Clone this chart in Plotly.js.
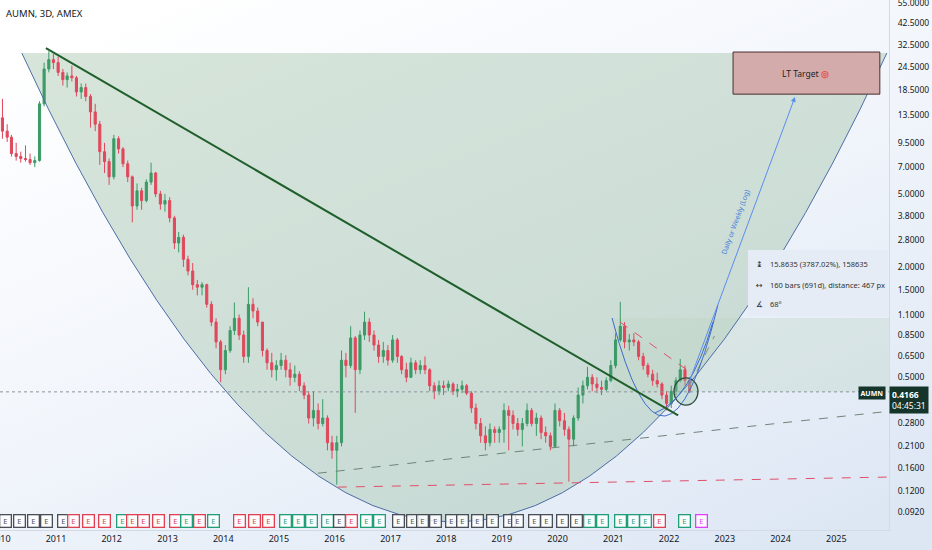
<!DOCTYPE html>
<html><head><meta charset="utf-8">
<script src="https://cdn.plot.ly/plotly-3.0.1.min.js"></script>
<style>html,body{margin:0;padding:0;background:#fff;}#chart{width:932px;height:550px;}</style>
</head><body><div id="chart"></div>
<script>
// ---------- data (monthly OHLC, AUMN) ----------
const startYear = 2010;
const openP = [
 13,11,10.2,8.3,8.0,7.8,7.7,7.4,7.6,15.5,24,27,
 26,23,21,22,21.5,18,19,17,14,12,8.5,7.5,
 6.2,10,8.8,7.3,6.2,4.3,5.2,4.6,5.8,6.5,5.0,4.4,
 4.6,3.7,2.7,2.9,2.2,1.9,1.6,1.55,1.6,1.25,1.0,0.78,
 0.55,0.7,0.9,1.05,0.85,0.65,1.25,1.15,1.0,0.7,0.6,0.55,
 0.58,0.62,0.55,0.5,0.52,0.45,0.4,0.3,0.33,0.28,0.3,0.22,
 0.2,0.22,0.62,0.58,0.82,0.55,0.85,1.0,0.85,0.75,0.65,0.7,
 0.62,0.8,0.65,0.55,0.5,0.6,0.55,0.58,0.55,0.45,0.42,0.45,
 0.44,0.46,0.42,0.43,0.45,0.41,0.34,0.28,0.24,0.22,0.26,0.25,
 0.26,0.33,0.31,0.28,0.26,0.28,0.33,0.28,0.3,0.25,0.24,0.21,
 0.33,0.29,0.26,0.23,0.3,0.4,0.45,0.5,0.46,0.44,0.43,0.48,
 0.58,0.8,0.95,0.78,0.8,0.78,0.65,0.58,0.52,0.48,0.46,0.4,
 0.36,0.42,0.48,0.55,0.48
];
const highP = [
 16.5,12,10.5,9.5,8.5,9.2,8.3,8.0,16,26,30,29,
 28,24,23,25,22,20,20,17.5,15.5,12.5,9.5,7.8,
 10.5,10.3,9,7.6,6.3,5.7,5.4,6.0,7.4,6.6,5.2,5.0,
 4.8,3.8,3.1,3.0,2.3,2.1,1.7,1.65,1.62,1.3,1.05,0.8,
 0.75,0.95,1.28,1.1,0.9,1.55,1.35,1.2,1.0,0.72,0.68,0.62,
 0.68,0.66,0.6,0.58,0.54,0.47,0.42,0.42,0.36,0.38,0.31,0.24,
 0.24,0.7,0.68,0.95,0.84,0.9,1.14,1.05,0.9,0.8,0.78,0.75,
 0.85,0.82,0.66,0.6,0.64,0.62,0.62,0.65,0.56,0.47,0.48,0.48,
 0.48,0.47,0.46,0.48,0.46,0.42,0.36,0.3,0.27,0.28,0.27,0.27,
 0.36,0.35,0.33,0.3,0.3,0.36,0.34,0.32,0.31,0.27,0.25,0.36,
 0.34,0.32,0.27,0.31,0.44,0.48,0.57,0.52,0.5,0.48,0.5,0.62,
 0.87,1.29,1.0,0.86,0.87,0.8,0.68,0.6,0.55,0.53,0.47,0.42,
 0.45,0.5,0.63,0.58,0.5
];
const lowP = [
 10,9.6,8,7.6,7.4,7.5,7.2,7.0,7.5,15,23,24,
 22,19.5,19,20.5,17,16.5,16,11.5,11,7.2,6.5,5.6,
 6,8.3,7,5.8,3.5,4.1,4.1,4.5,5.6,4.8,4.1,4.0,
 3.5,2.5,2.4,2.0,1.8,1.5,1.4,1.4,1.2,0.95,0.72,0.47,
 0.52,0.68,0.85,0.8,0.6,0.6,1.05,0.95,0.65,0.55,0.5,0.48,
 0.55,0.5,0.45,0.47,0.42,0.38,0.28,0.27,0.26,0.27,0.2,0.18,
 0.13,0.21,0.5,0.56,0.32,0.52,0.8,0.78,0.7,0.6,0.6,0.58,
 0.6,0.6,0.52,0.47,0.5,0.52,0.52,0.52,0.42,0.38,0.4,0.4,
 0.42,0.4,0.39,0.41,0.4,0.32,0.26,0.22,0.2,0.21,0.22,0.22,
 0.22,0.2,0.26,0.24,0.21,0.27,0.27,0.24,0.23,0.22,0.2,0.21,
 0.27,0.24,0.135,0.21,0.29,0.36,0.43,0.42,0.41,0.4,0.42,0.47,
 0.56,0.78,0.72,0.7,0.74,0.62,0.55,0.5,0.45,0.44,0.38,0.33,
 0.34,0.4,0.47,0.45,0.41
];
const closeP = [
 11,10.2,8.3,8.0,7.8,7.7,7.4,7.6,15.5,24,27,26,
 23,21,22,21.5,18,19,17,14,12,8.5,7.5,6.2,
 10,8.8,7.3,6.2,4.3,5.2,4.6,5.8,6.5,5.0,4.4,4.6,
 3.7,2.7,2.9,2.2,1.9,1.6,1.55,1.6,1.25,1.0,0.78,0.55,
 0.7,0.9,1.05,0.85,0.65,1.25,1.15,1.0,0.7,0.6,0.55,0.58,
 0.62,0.55,0.5,0.52,0.45,0.4,0.3,0.33,0.28,0.3,0.22,0.2,
 0.22,0.62,0.58,0.82,0.55,0.85,1.0,0.85,0.75,0.65,0.7,0.62,
 0.8,0.65,0.55,0.5,0.6,0.55,0.58,0.55,0.45,0.42,0.45,0.44,
 0.46,0.42,0.43,0.45,0.41,0.34,0.28,0.24,0.22,0.26,0.25,0.26,
 0.33,0.31,0.28,0.26,0.28,0.33,0.28,0.3,0.25,0.24,0.21,0.33,
 0.29,0.26,0.23,0.3,0.4,0.45,0.5,0.46,0.44,0.43,0.48,0.58,
 0.8,0.95,0.78,0.8,0.78,0.65,0.58,0.52,0.48,0.46,0.4,0.36,
 0.42,0.48,0.55,0.48,0.4166
];
const lastPrice = 0.4166;
const countdown = "04:45:31";
const symbolTitle = "AUMN, 3D, AMEX";

const yTickVals = [0.092,0.12,0.16,0.21,0.28,0.5,0.65,0.85,1.1,1.5,2.0,2.8,3.8,5.0,7.0,9.5,13.5,18.5,24.5,32.5,42.5,55];
const xTickYears = [2010,2011,2012,2013,2014,2015,2016,2017,2018,2019,2020,2021,2022,2023,2024,2025];

// earnings events ("n" none, "r" miss, "g" beat, "m" upcoming)
const earnDates = ['2010-02-07','2010-05-10','2010-08-04','2010-11-02','2011-02-16','2011-04-28','2011-08-04','2011-11-16','2012-03-14','2012-05-18','2012-07-30','2012-11-05','2013-02-25','2013-05-08','2013-08-01','2013-10-26','2014-04-20','2014-07-28','2014-10-27','2015-02-16','2015-05-06','2015-08-05','2015-11-18','2016-02-05','2016-04-23','2016-07-31','2016-10-24','2017-02-20','2017-05-22','2017-08-02','2017-10-20','2018-02-08','2018-04-15','2018-07-28','2018-11-03','2019-02-17','2019-04-16','2019-08-06','2019-10-23','2020-02-05','2020-05-01','2020-07-31','2020-10-24','2021-02-14','2021-05-10','2021-07-27','2021-10-27','2022-04-15','2022-08-04'];
const earnKinds = ['n','n','n','n','n','r','r','r','g','r','r','r','r','g','r','g','r','r','r','g','g','g','g','n','r','g','g','n','n','n','n','n','n','n','n','n','n','n','n','n','n','g','g','g','g','g','r','g','m'];

// drawings (anchor points: [date, price])
const cupLeft = ['2010-05-22', 29.3], cupCtrl = ['2018-02-20', 0.000225], cupRight = ['2025-11-28', 29.3];
const trendStart = ['2010-10-27', 31.2], trendEnd = ['2022-03-01', 0.31];
const grayDashStart = ['2015-09-13', 0.150], grayDashEnd = ['2025-12-20', 0.327];
const redDashStart = ['2016-01-22', 0.126], redDashEnd = ['2025-12-20', 0.143];
const smallCupL = ['2020-12-23', 1.053], smallCupC = ['2021-12-05', 0.0828], smallCupR = ['2022-11-17', 1.24];
const arcL = ['2021-09-30', 0.3195], arcC = ['2022-05-18', 0.376], arcR = ['2022-10-15', 1.0];
const redSmallStart = ['2021-02-14', 1.0], redSmallEnd = ['2022-05-18', 0.534];
const grayShortStart = ['2022-05-10', 0.44], grayShortEnd = ['2022-10-25', 0.84];
const ellipseBox = ['2022-02-02', 0.353, '2022-07-09', 0.496];
const zoneBox = ['2020-12-30', 0.4166, '2025-12-20', 1.053];
const targetBox = ['2023-02-24', 17.5, '2025-10-13', 29.7];
const measureBox = ['2023-06-02', 1.08, '2025-12-05', 2.47];
const arrowTail = ['2022-05-05', 0.454], arrowHead = ['2024-04-05', 16.9];
const measureLines = ['15.8635 (3787.02%), 158635', '160 bars (691d), distance: 467 px', '68°'];
const measureIcons = ['↨', '↔', '∡'];

// ---------- build ----------
const L = Math.log10;
const dates = [];
for (let i = 0; i < closeP.length; i++) {
  const y = startYear + Math.floor(i / 12), m = (i % 12) + 1;
  dates.push(y + '-' + String(m).padStart(2, '0') + '-15');
}
const FONT = 'Noto Sans, Open Sans, sans-serif';

const candles = {
  type: 'candlestick', x: dates, open: openP, high: highP, low: lowP, close: closeP,
  increasing: {line: {color: '#3c9a66', width: 1}, fillcolor: '#3c9a66'},
  decreasing: {line: {color: '#e0485c', width: 1}, fillcolor: '#e0485c'},
  whiskerwidth: 0, hoverinfo: 'skip', showlegend: false
};

const pt = p => p[0] + ',' + p[1];
const shapes = [
  {type: 'path', layer: 'below', path: 'M ' + pt(cupLeft) + ' Q ' + pt(cupCtrl) + ' ' + pt(cupRight) + ' Z',
   fillcolor: 'rgba(160,192,166,0.42)', line: {color: 'rgba(0,0,0,0)', width: 0}},
  {type: 'rect', layer: 'below', x0: zoneBox[0], y0: zoneBox[1], x1: zoneBox[2], y1: zoneBox[3],
   fillcolor: 'rgba(190,212,196,0.35)', line: {width: 0}},
  {type: 'path', path: 'M ' + pt(cupLeft) + ' Q ' + pt(cupCtrl) + ' ' + pt(cupRight),
   fillcolor: 'rgba(0,0,0,0)', line: {color: '#4d6ea8', width: 1}},
  {type: 'line', x0: grayDashStart[0], y0: grayDashStart[1], x1: grayDashEnd[0], y1: grayDashEnd[1],
   line: {color: '#6f847a', width: 1, dash: 'dash'}},
  {type: 'line', x0: redDashStart[0], y0: redDashStart[1], x1: redDashEnd[0], y1: redDashEnd[1],
   line: {color: '#e0506a', width: 1, dash: 'dash'}},
  {type: 'line', xref: 'paper', x0: 0, x1: 1, y0: lastPrice, y1: lastPrice,
   line: {color: '#8a949c', width: 1, dash: 'dot'}},
  {type: 'line', x0: redSmallStart[0], y0: redSmallStart[1], x1: redSmallEnd[0], y1: redSmallEnd[1],
   line: {color: '#e0506a', width: 1, dash: 'dash'}},
  {type: 'line', x0: grayShortStart[0], y0: grayShortStart[1], x1: grayShortEnd[0], y1: grayShortEnd[1],
   line: {color: '#7d8f86', width: 1, dash: 'dash'}},
  {type: 'circle', x0: ellipseBox[0], y0: ellipseBox[1], x1: ellipseBox[2], y1: ellipseBox[3],
   fillcolor: 'rgba(150,195,175,0.35)', line: {color: '#2e4a3c', width: 1.3}},
  {type: 'path', path: 'M ' + pt(smallCupL) + ' Q ' + pt(smallCupC) + ' ' + pt(smallCupR),
   fillcolor: 'rgba(0,0,0,0)', line: {color: '#3e6cc8', width: 1}},
  {type: 'path', path: 'M ' + pt(arcL) + ' Q ' + pt(arcC) + ' ' + pt(arcR),
   fillcolor: 'rgba(0,0,0,0)', line: {color: '#3e6cc8', width: 1}},
  {type: 'line', x0: trendStart[0], y0: trendStart[1], x1: trendEnd[0], y1: trendEnd[1],
   line: {color: '#1f5f2b', width: 2}},
  {type: 'rect', x0: targetBox[0], y0: targetBox[1], x1: targetBox[2], y1: targetBox[3],
   fillcolor: '#d3abab', line: {color: '#4a2f2f', width: 1}},
  {type: 'rect', x0: measureBox[0], y0: measureBox[1], x1: measureBox[2], y1: measureBox[3],
   fillcolor: '#e5ecf5', line: {width: 0}}
];

const annotations = [];
annotations.push({xref: 'paper', yref: 'paper', x: 0, y: (530 - 14) / 530, xanchor: 'left', yanchor: 'middle', xshift: 4,
  text: symbolTitle, showarrow: false, font: {family: FONT, size: 9.5, color: '#131722'}});
// arrow
annotations.push({x: arrowHead[0], y: L(arrowHead[1]), ax: arrowTail[0], ay: L(arrowTail[1]), axref: 'x', ayref: 'y',
  xref: 'x', yref: 'y', text: '', showarrow: true, arrowhead: 2, arrowsize: 1, arrowwidth: 1, arrowcolor: '#5b8def', standoff: 0});
annotations.push({x: '2023-03-09', y: L(3.51), xref: 'x', yref: 'y', text: 'Daily or Weekly (Log)', textangle: -69.6,
  showarrow: false, font: {family: FONT, size: 7, color: '#4a7fd8'}});
// LT target text
annotations.push({x: '2024-06-16', y: (L(targetBox[1]) + L(targetBox[3])) / 2, xref: 'x', yref: 'y',
  text: 'LT Target <span style="color:#e2533d"><b>◎</b></span>', showarrow: false, font: {family: FONT, size: 8.5, color: '#222'}});
// measurement texts
measureLines.forEach((t, i) => {
  const ys = [-14, -35, -54][i];
  annotations.push({x: measureBox[0], y: L(measureBox[3]), xref: 'x', yref: 'y', xanchor: 'left', yanchor: 'middle',
    xshift: 20, yshift: ys, text: t, showarrow: false, font: {family: FONT, size: 7.5, color: '#333'}});
  annotations.push({x: measureBox[0], y: L(measureBox[3]), xref: 'x', yref: 'y', xanchor: 'left', yanchor: 'middle',
    xshift: 6, yshift: ys, text: measureIcons[i], showarrow: false, font: {family: 'DejaVu Sans', size: 8, color: '#333'}});
});
// price labels
annotations.push({xref: 'paper', yref: 'y', x: 1, y: L(lastPrice), xanchor: 'left', yanchor: 'top', yshift: 6, xshift: 0,
  text: '<b>' + lastPrice.toFixed(4) + '</b><br>' + countdown, align: 'left', showarrow: false, bgcolor: '#15352a',
  borderpad: 2, font: {family: FONT, size: 8.5, color: '#ffffff'}});
annotations.push({xref: 'paper', yref: 'y', x: 1, y: L(lastPrice), xanchor: 'right', yanchor: 'middle', xshift: -3, yshift: -1,
  text: '<b>AUMN</b>', showarrow: false, bgcolor: '#15352a', borderpad: 1.5, font: {family: FONT, size: 7, color: '#ffffff'}});
// earnings markers
const kindColor = {n: '#4a4f57', r: '#e0404f', g: '#1f9e78', m: '#e040fb'};
earnDates.forEach((d, i) => {
  const c = kindColor[earnKinds[i]];
  annotations.push({x: d, xref: 'x', yref: 'paper', y: (530 - 521) / 530, yanchor: 'middle', text: 'E', showarrow: false,
    bgcolor: 'rgba(255,255,255,0.85)', bordercolor: c, borderwidth: 1.3, borderpad: 1, width: 8, height: 9,
    font: {family: FONT, size: 7.5, color: c}});
});

const svgBg = "<svg xmlns='http://www.w3.org/2000/svg' width='932' height='550'><defs><linearGradient id='g' x1='0.15' y1='0' x2='0.85' y2='1'><stop offset='0' stop-color='#ffffff'/><stop offset='0.5' stop-color='#f1f5fb'/><stop offset='1' stop-color='#dde7f4'/></linearGradient></defs><rect width='932' height='550' fill='url(#g)'/></svg>";

const layout = {
  width: 932, height: 550,
  margin: {l: 0, r: 43, t: 0, b: 20},
  paper_bgcolor: '#f4f7fb', plot_bgcolor: 'rgba(0,0,0,0)',
  showlegend: false,
  font: {family: FONT, color: '#131722'},
  images: [{source: 'data:image/svg+xml;charset=utf-8,' + encodeURIComponent(svgBg), xref: 'paper', yref: 'paper',
    x: 0, y: 1, sizex: 932 / 889, sizey: 550 / 530, xanchor: 'left', yanchor: 'top', sizing: 'stretch', layer: 'below'}],
  xaxis: {
    type: 'date', range: ['2009-12-30', '2025-12-12'], rangeslider: {visible: false},
    tickvals: xTickYears.map(y => y + '-01-01'), ticktext: xTickYears.map(String), ticklabeloverflow: 'allow',
    showgrid: false, zeroline: false, showline: true, linecolor: '#d3dae3', linewidth: 1,
    ticks: '', tickfont: {family: FONT, size: 9, color: '#131722'}, fixedrange: true
  },
  yaxis: {
    type: 'log', side: 'right', range: [-1.1335, 1.7564],
    tickvals: yTickVals, ticktext: yTickVals.map(v => v.toFixed(4)), ticklabeloverflow: 'allow',
    showgrid: false, zeroline: false, showline: true, linecolor: '#d3dae3', linewidth: 1,
    ticks: '', ticklabelstandoff: 6, tickfont: {family: FONT, size: 8.5, color: '#131722'}, fixedrange: true
  },
  shapes: shapes,
  annotations: annotations
};

Plotly.newPlot('chart', [candles], layout, {staticPlot: true, displayModeBar: false});
</script>
</body></html>
